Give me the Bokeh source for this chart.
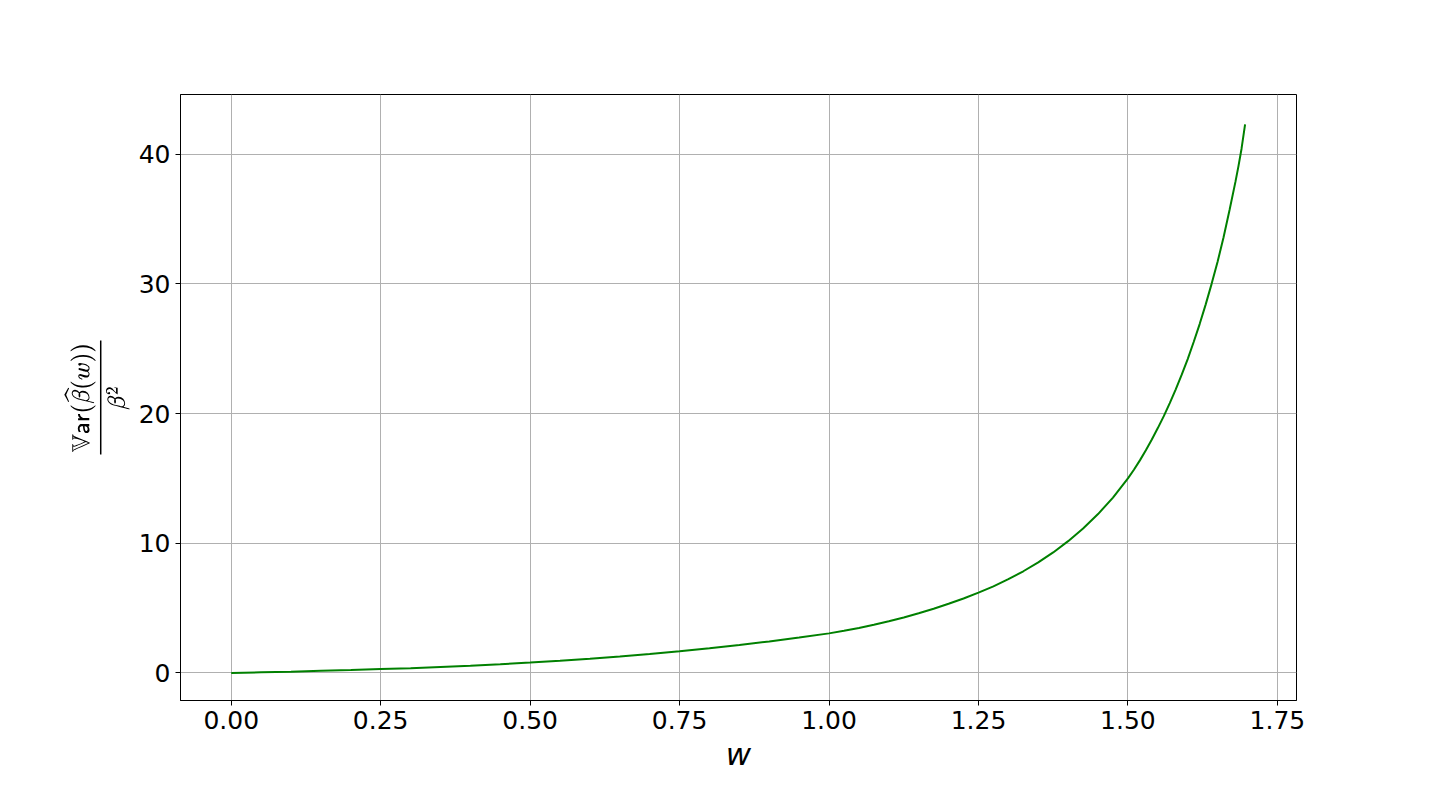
from bokeh.plotting import figure
from bokeh.embed import file_html
from bokeh.resources import INLINE
from bokeh.models import FixedTicker, PrintfTickFormatter, Range1d, TeX

# Data
w_vals = [0.0, 0.05, 0.1, 0.15, 0.2, 0.25, 0.3, 0.35, 0.4, 0.45, 0.5, 0.55, 0.6, 0.65,
          0.7, 0.75, 0.8, 0.85, 0.9, 0.95, 1.0, 1.025, 1.05, 1.075, 1.1, 1.125, 1.15, 1.175,
          1.2, 1.225, 1.25, 1.275, 1.3, 1.325, 1.35, 1.375, 1.4, 1.425, 1.45, 1.475, 1.5,
          1.51, 1.52, 1.53, 1.54, 1.55, 1.56, 1.57, 1.58, 1.59, 1.6, 1.61, 1.62, 1.63, 1.64,
          1.65, 1.66, 1.67, 1.68, 1.685, 1.69, 1.696]
var_ratio = [0.0, 0.05, 0.1, 0.16, 0.22, 0.3, 0.37, 0.46, 0.55, 0.67, 0.8, 0.94, 1.1, 1.27,
             1.46, 1.67, 1.9, 2.15, 2.43, 2.73, 3.05, 3.25, 3.47, 3.72, 3.98, 4.28, 4.6, 4.95,
             5.33, 5.74, 6.19, 6.68, 7.23, 7.84, 8.52, 9.29, 10.16, 11.14, 12.25, 13.52, 15.0,
             15.67, 16.39, 17.17, 18.0, 18.88, 19.8, 20.81, 21.87, 23.0, 24.2, 25.52, 26.9, 28.4, 30.0,
             31.7, 33.6, 35.7, 37.9, 39.1, 40.4, 42.3]
x_ticks = [0.0, 0.25, 0.5, 0.75, 1.0, 1.25, 1.5, 1.75]
y_ticks = [0, 10, 20, 30, 40]

p = figure(width=1424, height=774, output_backend="svg", toolbar_location=None,
           x_range=Range1d(-0.0849, 1.782), y_range=Range1d(-2.125, 44.6),
           min_border_left=180, min_border_right=128, min_border_top=94, min_border_bottom=74)

p.line(w_vals, var_ratio, line_color="#008000", line_width=2)

p.background_fill_color = "white"
p.border_fill_color = "white"
p.outline_line_color = "black"
p.outline_line_width = 1
p.outline_line_alpha = 1

for ax in (p.xaxis[0], p.yaxis[0]):
    ax.axis_line_color = "black"
    ax.major_tick_line_color = "black"
    ax.major_tick_out = 5
    ax.major_tick_in = 0
    ax.minor_tick_line_color = None
    ax.major_label_text_font = "DejaVu Sans"
    ax.major_label_text_font_size = "25px"
    ax.major_label_text_color = "black"
    ax.major_label_standoff = 5

p.xaxis.ticker = FixedTicker(ticks=x_ticks)
p.xaxis.formatter = PrintfTickFormatter(format="%.2f")
p.yaxis.ticker = FixedTicker(ticks=y_ticks)

p.xaxis.axis_label = "w"
p.xaxis.axis_label_text_font = "DejaVu Sans"
p.xaxis.axis_label_text_font_style = "italic"
p.xaxis.axis_label_text_font_size = "31px"
p.xaxis.axis_label_text_color = "black"
p.xaxis.axis_label_standoff = 4

p.yaxis.axis_label = TeX(r"\frac{\mathbb{V}\mathsf{ar}(\widehat{\beta}(w))}{\beta^2}")
p.yaxis.axis_label_text_font_size = "20px"
p.yaxis.axis_label_text_color = "black"
p.yaxis.axis_label_standoff = 6

p.xgrid.ticker = FixedTicker(ticks=x_ticks)
p.ygrid.ticker = FixedTicker(ticks=y_ticks)
for g in (p.xgrid[0], p.ygrid[0]):
    g.grid_line_color = "#b0b0b0"
    g.grid_line_width = 1

open("out.html", "w").write(file_html(p, INLINE))
